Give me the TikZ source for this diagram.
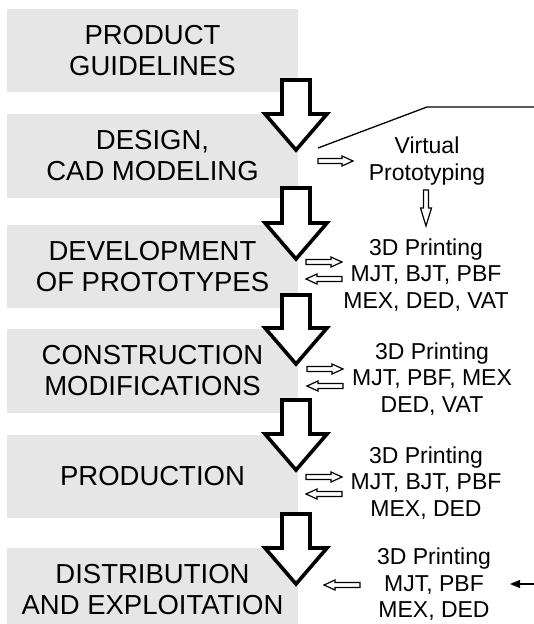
\documentclass[tikz,border=0pt]{standalone}
\usepackage{fontspec}
\setmainfont{Liberation Sans}
\usetikzlibrary{arrows.meta}
\definecolor{stagegray}{RGB}{230,230,230}

% thick hollow arrow between two stages: centre x, shaft top, tip
\newcommand\stagearrow[3]{%
  \draw[bigarrowline]
    ({#1-14},#2) -- ({#1+14},#2) -- ({#1+14},{#3-36}) -- ({#1+31},{#3-36})
    -- (#1,#3) -- ({#1-31},{#3-36}) -- ({#1-14},{#3-36}) -- cycle;}
% small hollow arrows: tail x, tip x, y
\newcommand\hollowright[3]{%
  \draw[smallarrowline]
    (#1,{#3-2.5}) -- ({#2-11},{#3-2.5}) -- ({#2-11},{#3-5}) -- (#2,#3)
    -- ({#2-11},{#3+5}) -- ({#2-11},{#3+2.5}) -- (#1,{#3+2.5}) -- cycle;}
\newcommand\hollowleft[3]{%
  \draw[smallarrowline]
    (#1,{#3-2.5}) -- ({#2+11},{#3-2.5}) -- ({#2+11},{#3-5}) -- (#2,#3)
    -- ({#2+11},{#3+5}) -- ({#2+11},{#3+2.5}) -- (#1,{#3+2.5}) -- cycle;}
% small hollow arrow pointing down: x, tail y, tip y
\newcommand\hollowdown[3]{%
  \draw[smallarrowline]
    ({#1-2.5},#2) -- ({#1-2.5},{#3-18}) -- ({#1-5.5},{#3-18}) -- (#1,#3)
    -- ({#1+5.5},{#3-18}) -- ({#1+2.5},{#3-18}) -- ({#1+2.5},#2) -- cycle;}

\begin{document}
\begin{tikzpicture}[x=1pt,y=-1pt,
  stage/.style={fill=stagegray, minimum width=291pt, minimum height=83pt,
    inner sep=0pt, align=center, font=\fontsize{27.5}{31}\selectfont},
  tech/.style={inner sep=0pt, align=center, font=\fontsize{23}{26.5}\selectfont},
  bigarrowline/.style={draw=black, fill=white, line width=3.6pt, miter limit=10},
  smallarrowline/.style={draw=black, fill=white, line width=1.2pt},
  lead/.style={line width=1.3pt}]
\useasboundingbox (0,0) rectangle (534,624);

% process stages
\node[stage] (guide)  at (152.5,50.5) {PRODUCT\\GUIDELINES};
\node[stage, minimum height=84pt] (design) at (152.5,156) {DESIGN,\\CAD MODELING};
\node[stage] (proto)  at (152.5,266.5) {DEVELOPMENT\\OF PROTOTYPES};
\node[stage, minimum height=84pt] (constr) at (152.5,371) {CONSTRUCTION\\MODIFICATIONS};
\node[stage] (prod)   at (152.5,476.5) {PRODUCTION};
\node[stage, minimum height=84pt] (distr)  at (152.5,590) {DISTRIBUTION\\AND EXPLOITATION};

% flow from stage to stage
\stagearrow{296}{80}{150}
\stagearrow{296}{188}{259}
\stagearrow{296}{295}{364}
\stagearrow{296}{400}{470}
\stagearrow{296}{514}{584}

% supporting techniques
\node[tech] (virt)   at (427,161)   {Virtual\\Prototyping};
\node[tech] (print1) at (426,275) {3D Printing\\MJT, BJT, PBF\\MEX, DED, VAT};
\node[tech] (print2) at (432,379)   {3D Printing\\MJT, PBF, MEX\\DED, VAT};
\node[tech] (print3) at (426,483)   {3D Printing\\MJT, BJT, PBF\\MEX, DED};
\node[tech] (print4) at (434,584.5) {3D Printing\\MJT, PBF\\MEX, DED};

% bracket line over virtual prototyping
\coordinate (bendA) at (318,148);
\coordinate (bendB) at (427,107);
\coordinate (bendC) at (534,107);
\draw[lead] (bendA) -- (bendB) -- (bendC);

% exchange arrows
\hollowright{318}{353}{161}
\hollowdown{426}{190}{226}
\hollowright{306}{342}{262}
\hollowleft{342}{306}{279}
\hollowright{307}{343}{369}
\hollowleft{343}{307}{386}
\hollowright{306}{342}{477}
\hollowleft{342}{306}{494}
\hollowleft{360}{324}{585}

% incoming feedback
\coordinate (feedin) at (534,584);
\coordinate (feedtip) at (510,584);
\draw[lead, -{Triangle[length=10pt,width=8pt]}] (feedin) -- (feedtip);
\end{tikzpicture}
\end{document}
